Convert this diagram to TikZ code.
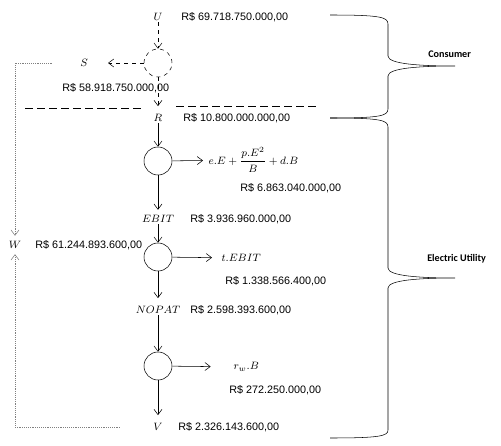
\documentclass[tikz,border=0pt]{standalone}
\usepackage{amssymb, amsmath}
\usepackage{fontspec}
\setsansfont{Liberation Sans}
\newfontfamily\bracefont{Carlito}
\usetikzlibrary{shapes,arrows,arrows.meta,positioning,calc}

\begin{document}
\begin{tikzpicture}[auto, x=0.75pt, y=-0.75pt, >={Straight Barb[length=4pt,width=6pt]}]
\tikzset{
sum/.style      = {draw, shape=circle, minimum size=21pt, inner sep=0pt},
psum/.style     = {sum, dashed},
var/.style      = {inner sep=1pt, font=\fontsize{8.3}{9}\selectfont},
money/.style    = {anchor=west, inner sep=0pt, font=\sffamily\fontsize{8.1}{9}\selectfont},
group/.style    = {anchor=west, inner sep=0pt, font=\bracefont\bfseries\fontsize{7.6}{9}\selectfont},
loop/.style     = {densely dotted, gray},
border/.style   = {dash pattern=on 6pt off 3pt},
}
\useasboundingbox (0,0) rectangle (501,446);

    % Main nodes
    \node [var]                 (U)         at (158,17)  {$U$};
    \node [psum]                (split)     at (158,63)  {};
    \node [var]                 (S)         at (84,63)   {$S$};
    \node [var]                 (R)         at (158,118) {$R$};
    \node [sum]                 (opcost)    at (158,161) {};
    \node [var, anchor=west]    (opex)      at (207,160) {$e.E+\dfrac{p.E^2}{B}+d.B$};
    \node [var]                 (EBIT)      at (158,219) {$EBIT$};
    \node [sum]                 (taxes)     at (158,257) {};
    \node [var, anchor=west]    (tEBIT)     at (220,258) {$t.EBIT$};
    \node [var]                 (NOPAT)     at (158,310) {$NOPAT$};
    \node [sum]                 (capcharge) at (158,366) {};
    \node [var, anchor=west]    (rwB)       at (232,367) {$r_w.B$};
    \node [var]                 (V)         at (158,427) {$V$};
    \node [var]                 (W)         at (15,245)  {$W$};

    % Values
    \node [money] (vU)     at (181,17)  {R\$ 69.718.750.000,00};
    \node [money] (vS)     at (62,88)   {R\$ 58.918.750.000,00};
    \node [money] (vR)     at (183,118) {R\$ 10.800.000.000,00};
    \node [money] (vopex)  at (240,188) {R\$ 6.863.040.000,00};
    \node [money] (vEBIT)  at (190,219) {R\$ 3.936.960.000,00};
    \node [money] (vW)     at (35,245)  {R\$ 61.244.893.600,00};
    \node [money] (vtax)   at (225,281) {R\$ 1.338.566.400,00};
    \node [money] (vNOPAT) at (190,310) {R\$ 2.598.393.600,00};
    \node [money] (vrwB)   at (229,390) {R\$ 272.250.000,00};
    \node [money] (vV)     at (178,427) {R\$ 2.326.143.600,00};

    % Main edges
    \draw [->, dashed]  (U)         --  (split);
    \draw [->, dashed, shorten >=14pt]  (split) --  (S);
    \draw [->, dashed, shorten >=5pt]   (split) --  (R);
    \draw [->]  (R)         --  (opcost);
    \draw [->, shorten >=3pt]  (opcost)    --  (opex);
    \draw [->, shorten >=3pt]  (opcost)    --  (EBIT);
    \draw [->]  (EBIT)      --  (taxes);
    \draw [->, shorten >=6pt]  (taxes)     --  (tEBIT);
    \draw [->, shorten >=5pt]  (taxes)     --  (NOPAT);
    \draw [->]  (NOPAT)     --  (capcharge);
    \draw [->, shorten >=16pt] (capcharge) --  (rwB);
    \draw [->, shorten >=5pt]  (capcharge) --  (V);

    % Value to the firm
    \draw [loop, ->, shorten >=3pt] ([xshift=-20]S.west) -| (W);
    \draw [loop, ->, shorten >=3pt] ([xshift=-24]V.west) -| (W);

    % Boundary between consumer and utility
    \draw [border] (25,108) -- (142,108);
    \draw [border] (176,106) -- (318,106);

    % Braces
    \coordinate (ctip) at (455,66);
    \coordinate (utip) at (455,278);
    \draw (330,15) .. controls (380,15) and (388,17) .. (388,24) -- (388,56)
          .. controls (388,64) and (420,66) .. (ctip)
          .. controls (420,66) and (388,68) .. (388,76) -- (388,109)
          .. controls (388,116) and (380,118) .. (330,118);
    \draw (330,118) .. controls (380,118) and (388,120) .. (388,127) -- (388,268)
          .. controls (388,276) and (420,278) .. (utip)
          .. controls (420,278) and (388,280) .. (388,288) -- (388,430)
          .. controls (388,436) and (380,438) .. (330,438);
    \node [group] (consumer) at (428,54)  {Consumer};
    \node [group] (utility)  at (427,259) {Electric Utility};

\end{tikzpicture}
\end{document}
